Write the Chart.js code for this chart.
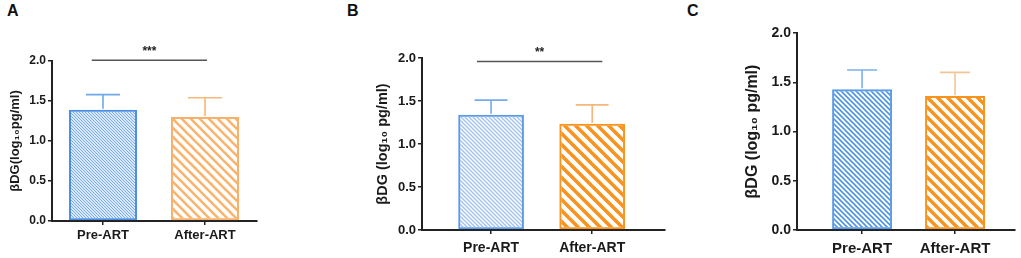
<!DOCTYPE html>
<html>
<head>
<meta charset="utf-8">
<script src="https://cdn.jsdelivr.net/npm/chart.js@4/dist/chart.umd.min.js"></script>
<style>
  body { margin: 0; background: #fff; width: 1021px; height: 258px; position: relative; overflow: hidden; }
  canvas { position: absolute; top: 0; }
  .lbl { position: absolute; top: 2px; font: bold 16px Arial, "Liberation Sans", sans-serif; color: #111; }
</style>
</head>
<body>
<div class="lbl" style="left:7px">A</div>
<div class="lbl" style="left:347px">B</div>
<div class="lbl" style="left:687px">C</div>
<canvas id="chartA" width="270" height="258" style="left:0px"></canvas>
<canvas id="chartB" width="340" height="258" style="left:340px"></canvas>
<canvas id="chartC" width="341" height="258" style="left:680px"></canvas>
<script>
// data
var categories = ['Pre-ART', 'After-ART'];
var yTicks = [0, 0.5, 1.0, 1.5, 2.0];
var meanA = [1.39, 1.30];
var sdA = [0.19, 0.24];
var meanB = [1.34, 1.235];
var sdB = [0.17, 0.22];
var meanC = [1.43, 1.36];
var sdC = [0.195, 0.24];

Chart.defaults.font.family = 'Arial, "Liberation Sans", sans-serif';
Chart.defaults.color = '#1a1a1a';

// diagonal "\" hatch
function hatch(color, period, lw) {
  var c = document.createElement('canvas');
  c.width = period; c.height = period;
  var g = c.getContext('2d');
  g.strokeStyle = color;
  g.lineWidth = lw;
  [-period, 0, period].forEach(function(k) {
    g.beginPath();
    g.moveTo(k - 1, -1);
    g.lineTo(k + period + 1, period + 1);
    g.stroke();
  });
  return g.createPattern(c, 'repeat');
}

// error bars (upper only) + significance bar
var extras = {
  id: 'extras',
  afterDatasetsDraw: function(chart) {
    var ctx = chart.ctx;
    var o = chart.options.plugins.extras;
    var ys = chart.scales.y, xs = chart.scales.x;
    var meta = chart.getDatasetMeta(0);
    ctx.save();
    meta.data.forEach(function(bar, i) {
      var top = ys.getPixelForValue(o.mean[i] + o.sd[i]);
      var half = bar.width / 4;
      ctx.strokeStyle = o.errColors[i];
      ctx.lineWidth = 1.6;
      ctx.beginPath();
      ctx.moveTo(bar.x, bar.y - 1);
      ctx.lineTo(bar.x, top);
      ctx.moveTo(bar.x - half, top);
      ctx.lineTo(bar.x + half, top);
      ctx.stroke();
    });
    if (o.sig) {
      var y = ys.getPixelForValue(o.sig.y);
      var x0 = xs.getPixelForValue(o.sig.from), x1 = xs.getPixelForValue(o.sig.to);
      ctx.strokeStyle = '#555';
      ctx.lineWidth = 1.5;
      ctx.beginPath();
      ctx.moveTo(x0, y);
      ctx.lineTo(x1, y);
      ctx.stroke();
      ctx.fillStyle = '#222';
      ctx.font = 'bold 12px Arial, "Liberation Sans", sans-serif';
      ctx.textAlign = 'center';
      ctx.textBaseline = 'middle';
      ctx.fillText(o.sig.text, (x0 + x1) / 2, y - 9);
    }
    ctx.restore();
  }
};

function makePanel(id, p) {
  var ctx = document.getElementById(id).getContext('2d');
  return new Chart(ctx, {
    type: 'bar',
    data: {
      datasets: [{
        data: categories.map(function(c, i) { return { x: i + 1, y: p.mean[i] }; }),
        backgroundColor: p.fills,
        borderColor: p.borders,
        borderWidth: 2,
        borderSkipped: false,
        categoryPercentage: 1,
        barPercentage: p.barPct
      }]
    },
    options: {
      responsive: false,
      animation: false,
      layout: { padding: { top: p.top, left: p.left, right: p.right, bottom: 0 } },
      plugins: {
        legend: { display: false },
        tooltip: { enabled: false },
        extras: { mean: p.mean, sd: p.sd, errColors: p.errColors, sig: p.sig }
      },
      scales: {
        x: {
          type: 'linear',
          offset: false,
          min: p.xMin, max: p.xMax,
          afterBuildTicks: function(s) { s.ticks = categories.map(function(c, i) { return { value: i + 1 }; }); },
          afterFit: function(s) { s.height = p.xHeight; },
          border: { display: true, color: '#222', width: 2 },
          grid: { display: true, offset: false, drawOnChartArea: false, drawTicks: true, tickLength: 4, color: '#222', lineWidth: 1.5 },
          ticks: {
            padding: p.xPad,
            autoSkip: false,
            maxRotation: 0,
            font: { size: p.xFont, weight: 'bold' },
            color: '#1a1a1a',
            callback: function(v) { return categories[v - 1]; }
          }
        },
        y: {
          min: 0, max: 2,
          afterBuildTicks: function(s) { s.ticks = yTicks.map(function(v) { return { value: v }; }); },
          afterFit: function(s) { s.width = p.yWidth; },
          border: { display: true, color: '#222', width: 2 },
          grid: { display: true, drawOnChartArea: false, drawTicks: true, tickLength: 4, color: '#222', lineWidth: 1.5 },
          ticks: {
            padding: 2,
            font: { size: p.tickFont, weight: 'bold' },
            color: '#1a1a1a',
            callback: function(v) { return v.toFixed(1); }
          },
          title: {
            display: true,
            text: p.title,
            padding: 0,
            font: { size: p.titleFont, weight: 'bold' },
            color: '#1a1a1a'
          }
        }
      }
    },
    plugins: [extras]
  });
}

makePanel('chartA', {
  mean: meanA, sd: sdA,
  fills: [hatch('#76abeb', 3, 1.1), hatch('#f9b46e', 9, 2.6)],
  borders: ['#4a8fe3', '#f9b06a'],
  errColors: ['#6ea8ea', '#f9b877'],
  barPct: 0.667, xMin: 0.5, xMax: 2.51,
  top: 61, left: 8, right: 13, yWidth: 44, xHeight: 37, xPad: 3,
  tickFont: 12, xFont: 13, titleFont: 13,
  title: 'βDG(log₁₀pg/ml)',
  sig: { text: '***', from: 0.89, to: 2.02, y: 2.01 }
});

makePanel('chartB', {
  mean: meanB, sd: sdB,
  fills: [hatch('#a3c2ec', 4, 1.4), hatch('#f7931e', 11, 3.6)],
  borders: ['#5b9be6', '#f7931e'],
  errColors: ['#74aceb', '#f8b67a'],
  barPct: 0.65, xMin: 0.317, xMax: 2.72,
  top: 58, left: 34, right: 15, yWidth: 48, xHeight: 28, xPad: 6,
  tickFont: 13, xFont: 14, titleFont: 14.5,
  title: 'βDG (log₁₀ pg/ml)',
  sig: { text: '**', from: 0.86, to: 2.10, y: 1.96 }
});

makePanel('chartC', {
  mean: meanC, sd: sdC,
  fills: [hatch('#4f94e4', 5, 1.6), hatch('#f7931e', 10, 3.4)],
  borders: ['#5b9be6', '#f7931e'],
  errColors: ['#7fb0ea', '#f3c595'],
  barPct: 0.645, xMin: 0.30, xMax: 2.645,
  top: 33, left: 63, right: 6, yWidth: 54, xHeight: 28, xPad: 6,
  tickFont: 14, xFont: 15, titleFont: 16,
  title: 'βDG (log₁₀ pg/ml)',
  sig: null
});
</script>
</body>
</html>
